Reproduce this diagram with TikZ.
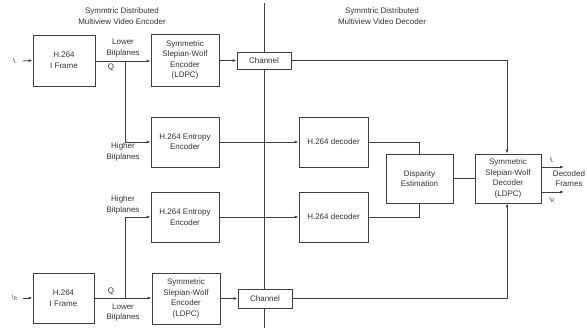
\documentclass[tikz,border=0pt]{standalone}
\usepackage{fontspec}
\setmainfont{Liberation Sans}
\usetikzlibrary{arrows.meta}
\definecolor{ln}{HTML}{404040}
\definecolor{tx}{HTML}{333333}
\begin{document}
\begin{tikzpicture}[x=1pt,y=-1pt,
  blk/.style={draw=ln,line width=0.8pt,fill=white,inner sep=0pt,align=center,text=tx,font=\fontsize{8}{10.5}\selectfont},
  lbl/.style={inner sep=0pt,align=center,text=tx,font=\fontsize{8}{10.5}\selectfont},
  sml/.style={inner sep=0pt,text=tx,font=\fontsize{5}{6}\selectfont},
  wire/.style={draw=ln,line width=0.8pt},
  arr/.style={wire,-{Latex[length=4pt,width=3pt]}}]
\useasboundingbox (0,0) rectangle (587,328);
% divider
\coordinate (vt) at (264,3);
\coordinate (vb) at (264,328);
\draw[wire] (vt) -- (vb);
% titles
\node[lbl] (tenc) at (122,16) {Symmtric Distributed\\Multiview Video Encoder};
\node[lbl] (tdec) at (382,16) {Symmtric Distributed\\Multiview Video Decoder};
% encoder blocks
\node[blk,minimum width=62pt,minimum height=51pt] (if1) at (64,60.5) {H.264\\I Frame};
\node[blk,minimum width=68pt,minimum height=52pt] (sw1) at (185,60) {Symmetric\\Slepian-Wolf\\Encoder\\(LDPC)};
\node[blk,minimum width=54pt,minimum height=17pt] (ch1) at (264,60.5) {Channel};
\node[blk,minimum width=68pt,minimum height=50pt] (ent1) at (185,142) {H.264 Entropy\\Encoder};
\node[blk,minimum width=68pt,minimum height=50pt] (ent2) at (185,217) {H.264 Entropy\\Encoder};
\node[blk,minimum width=61pt,minimum height=50pt] (if2) at (63.5,298) {H.264\\I Frame};
\node[blk,minimum width=68pt,minimum height=51pt] (sw2) at (186,298.5) {Symmetric\\Slepian-Wolf\\Encoder\\(LDPC)};
\node[blk,minimum width=54pt,minimum height=19pt] (ch2) at (265,298.5) {Channel};
% decoder blocks
\node[blk,minimum width=69pt,minimum height=50pt] (dec1) at (333.5,142) {H.264 decoder};
\node[blk,minimum width=69pt,minimum height=50pt] (dec2) at (333.5,217) {H.264 decoder};
\node[blk,minimum width=67pt,minimum height=49pt] (disp) at (419.5,178.5) {Disparity\\Estimation};
\node[blk,minimum width=66pt,minimum height=49pt] (swd) at (508,178.5) {Symmetric\\Slepian-Wolf\\Decoder\\(LDPC)};
% inputs
\node[sml] (il) at (15,61) {I\textsubscript{L}};
\node[sml] (ir) at (15,298) {I\textsubscript{R}};
\draw[arr] (il.east) ++(5,0) -- (if1.west);
\draw[arr] (ir.east) ++(5,0) -- (if2.west);
% upper encoder wiring
\coordinate (b1) at (125,61);
\coordinate (b2) at (125,298);
\draw[arr] (if1.east |- b1) -- (sw1.west |- b1);
\draw[wire] (b1) -- (125,142) coordinate (b1d);
\draw[arr] (b1d) -- (ent1.west);
\draw[arr] (sw1.east |- ch1) -- (ch1.west);
\node[lbl] (lb1) at (123,48) {Lower\\Bitplanes};
\node[lbl] (q1) at (111,67.5) {Q};
\node[lbl] (hb1) at (123,152) {Higher\\Bitplanes};
% lower encoder wiring
\draw[arr] (if2.east |- b2) -- (sw2.west |- b2);
\draw[wire] (b2) -- (125,217) coordinate (b2u);
\draw[arr] (b2u) -- (ent2.west);
\draw[arr] (sw2.east |- ch2) -- (ch2.west);
\node[lbl] (hb2) at (123,205) {Higher\\Bitplanes};
\node[lbl] (q2) at (111,291) {Q};
\node[lbl] (lb2) at (123,312.5) {Lower\\Bitplanes};
% encoder to decoder
\draw[arr] (ent1.east) -- (dec1.west);
\draw[arr] (ent2.east) -- (dec2.west);
\coordinate (c1) at (507,60.5);
\coordinate (c2) at (507,298.5);
\draw[arr] (ch1.east) -- (c1) -- (swd.north -| c1);
\draw[arr] (ch2.east) -- (c2) -- (swd.south -| c1);
% decoder internals
\draw[wire] (dec1.east) -| (disp.north);
\draw[wire] (dec2.east) -| (disp.south);
\draw[wire] (disp.east) -- (swd.west);
% outputs
\coordinate (o1) at (564,167);
\coordinate (o2) at (564,192);
\draw[arr] (swd.east |- o1) -- (o1);
\draw[arr] (swd.east |- o2) -- (o2);
\node[sml] (ol) at (552,160) {I\textsubscript{L}};
\node[sml] (or) at (552,199.5) {I\textsubscript{R}};
\node[lbl] (df) at (569,178.5) {Decoded\\Frames};
\end{tikzpicture}
\end{document}
